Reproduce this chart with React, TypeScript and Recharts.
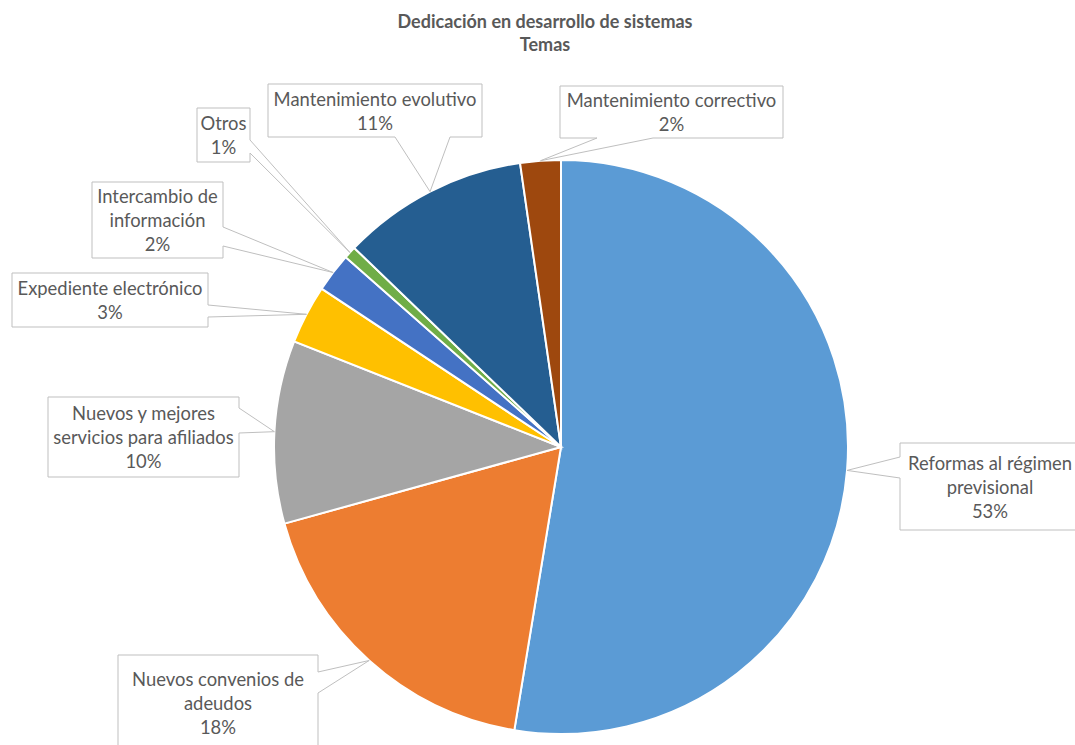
import React from 'react';
import { PieChart, Pie, Cell } from 'recharts';

const categories = [
  'Reformas al régimen\nprevisional',
  'Nuevos convenios de\nadeudos',
  'Nuevos y mejores\nservicios para afiliados',
  'Expediente electrónico',
  'Intercambio de\ninformación',
  'Otros',
  'Mantenimiento evolutivo',
  'Mantenimiento correctivo',
];
const shares = [52.6, 18.1, 10.3, 3.3, 2.2, 0.7, 10.52, 2.28];
const colors = ['#5B9BD5', '#ED7D31', '#A5A5A5', '#FFC000', '#4472C4', '#70AD47', '#255E91', '#9E480E'];

// callout boxes: box rect + side where the pointer leaves + pointer base offsets along that side
const callouts = [
  { x: 900, y: 443, w: 180, h: 87, side: 'left', a: 14, b: 35 },
  { x: 118, y: 655, w: 200, h: 96, side: 'right', a: 17, b: 38 },
  { x: 48, y: 397, w: 191, h: 80, side: 'right', a: 11, b: 36 },
  { x: 12, y: 273, w: 196, h: 54, side: 'right', a: 32, b: 44 },
  { x: 92, y: 182, w: 131, h: 76, side: 'right', a: 45, b: 64 },
  { x: 197, y: 108, w: 53, h: 54, side: 'right', a: 32, b: 45 },
  { x: 268, y: 84, w: 214, h: 53, side: 'bottom', a: 127, b: 182 },
  { x: 560, y: 86, w: 223, h: 52, side: 'bottom', a: 37, b: 93 },
];

const data = categories.map((name, i) => ({ name, value: shares[i] }));
const total = shares.reduce((s, v) => s + v, 0);
const RAD = Math.PI / 180;
const FONT = 'Lato, "Open Sans", sans-serif';
const LINE_H = 24;

function calloutPath(c: typeof callouts[number], tx: number, ty: number) {
  const { x, y, w, h, side, a, b } = c;
  const r = x + w;
  const btm = y + h;
  if (side === 'top')
    return `M${x},${y} L${x + a},${y} L${tx},${ty} L${x + b},${y} L${r},${y} L${r},${btm} L${x},${btm} Z`;
  if (side === 'right')
    return `M${x},${y} L${r},${y} L${r},${y + a} L${tx},${ty} L${r},${y + b} L${r},${btm} L${x},${btm} Z`;
  if (side === 'bottom')
    return `M${x},${y} L${r},${y} L${r},${btm} L${x + b},${btm} L${tx},${ty} L${x + a},${btm} L${x},${btm} Z`;
  return `M${x},${y} L${r},${y} L${r},${btm} L${x},${btm} L${x},${y + b} L${tx},${ty} L${x},${y + a} Z`;
}

function CalloutLabel(props: any) {
  const { cx, cy, midAngle, outerRadius, index, value } = props;
  const c = callouts[index];
  const tx = cx + outerRadius * Math.cos(-midAngle * RAD);
  const ty = cy + outerRadius * Math.sin(-midAngle * RAD);
  const lines = [...categories[index].split('\n'), `${Math.round((value / total) * 100)}%`];
  const midY = c.y + c.h / 2;
  const firstY = midY - ((lines.length - 1) * LINE_H) / 2;
  return (
    <g>
      <path d={calloutPath(c, tx, ty)} fill="#fff" stroke="#BFBFBF" strokeWidth={1} />
      {lines.map((ln, i) => (
        <text
          key={i}
          x={c.x + c.w / 2}
          y={firstY + i * LINE_H}
          textAnchor="middle"
          dominantBaseline="central"
          fill="#595959"
          fontSize={18.4}
          fontFamily={FONT}
        >
          {ln}
        </text>
      ))}
    </g>
  );
}

export default function App() {
  return (
    <div style={{ position: 'absolute', left: 0, top: 0, width: 1075, height: 745, background: '#fff' }}>
      <div
        style={{
          position: 'absolute',
          left: 0,
          top: 10,
          width: 1090,
          textAlign: 'center',
          fontFamily: FONT,
          fontWeight: 700,
          fontSize: 18,
          lineHeight: '23px',
          color: '#595959',
        }}
      >
        Dedicación en desarrollo de sistemas
        <br />
        Temas
      </div>
      <PieChart width={1075} height={745} margin={{ top: 0, right: 0, bottom: 0, left: 0 }}>
        <Pie
          data={data}
          dataKey="value"
          nameKey="name"
          cx={561}
          cy={447}
          outerRadius={287}
          startAngle={90}
          endAngle={-270}
          stroke="#fff"
          strokeWidth={2}
          label={CalloutLabel}
          labelLine={false}
          isAnimationActive={false}
        >
          {data.map((d, i) => (
            <Cell key={d.name} fill={colors[i]} />
          ))}
        </Pie>
      </PieChart>
    </div>
  );
}
